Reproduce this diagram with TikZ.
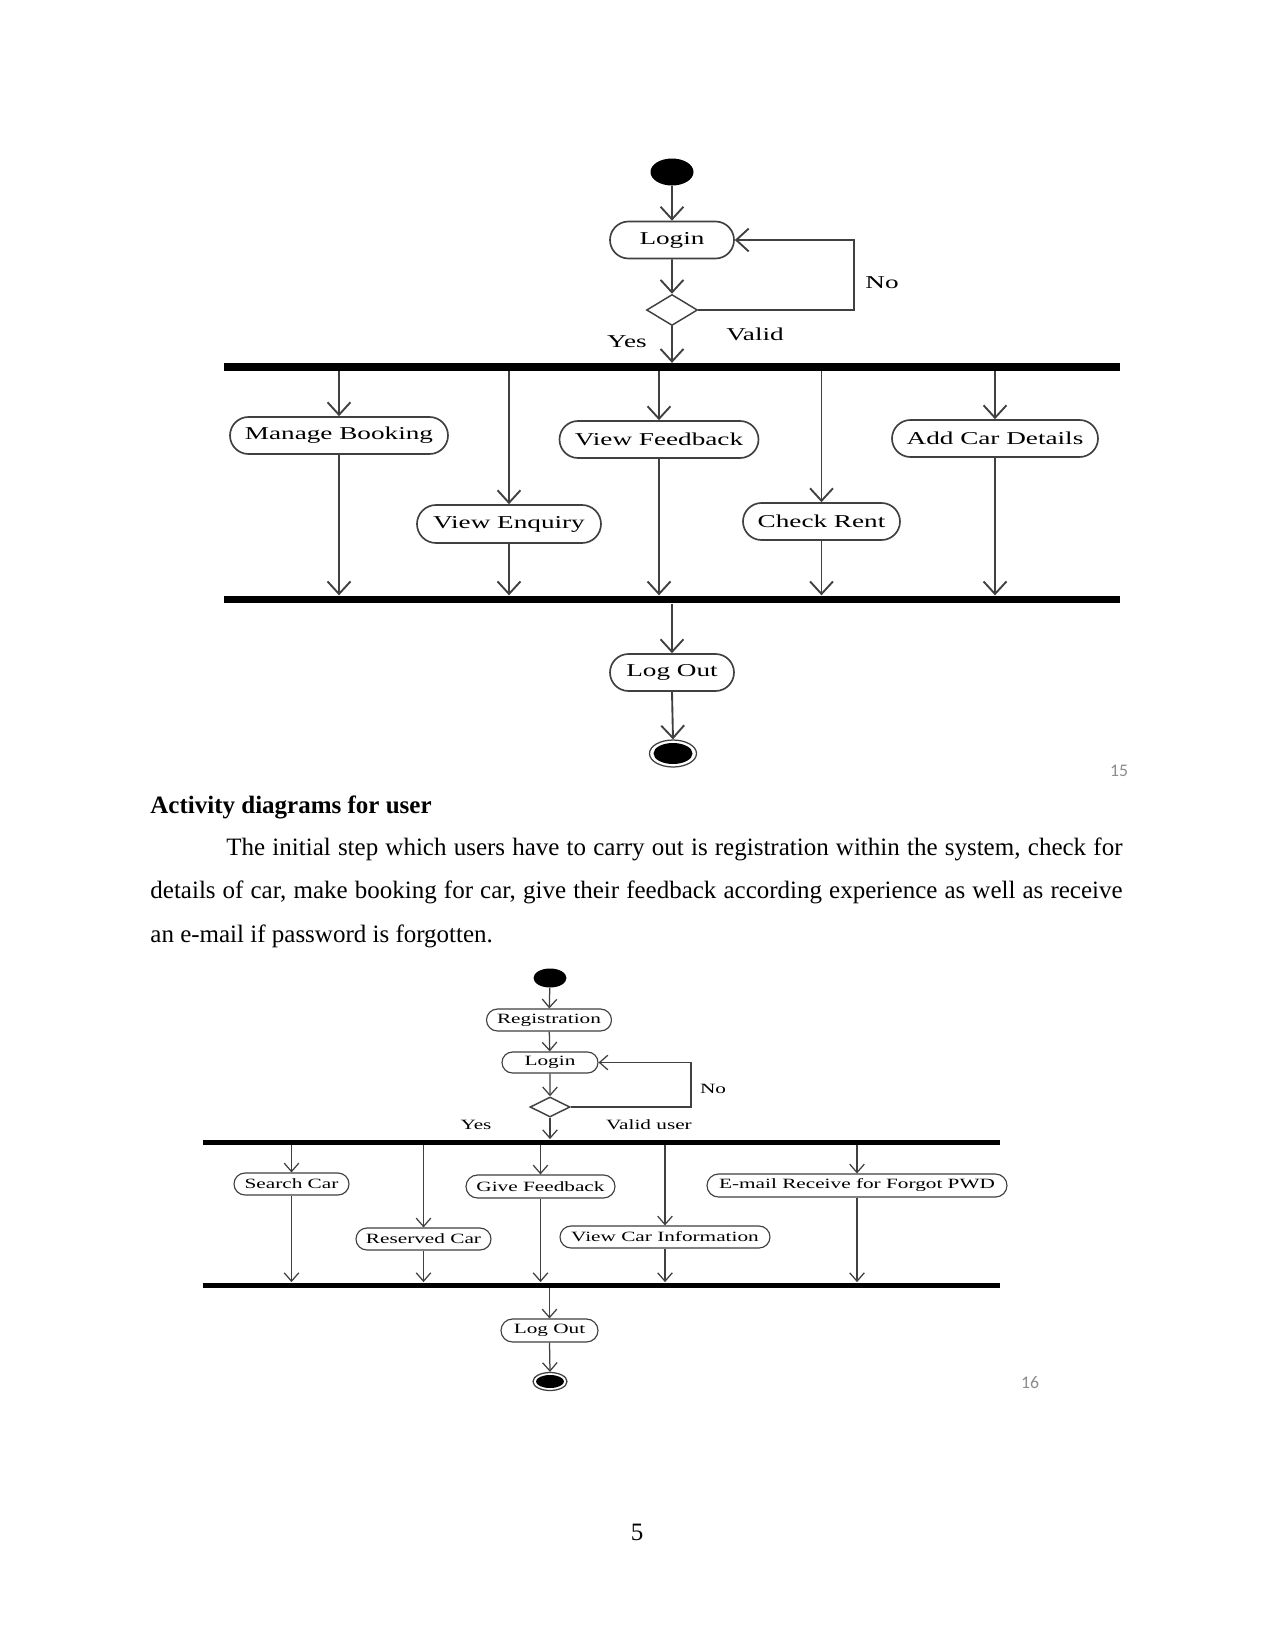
\documentclass[tikz,border=0pt]{standalone}
\usepackage{fontspec}
\setmainfont{Liberation Serif}
\newfontfamily\dfont[FakeStretch=1.5]{Liberation Serif}
\newfontfamily\nfont{Carlito}
\usetikzlibrary{arrows.meta,shapes.geometric,shapes.misc}
\begin{document}
\begin{tikzpicture}[x=0.48bp,y=-0.48bp,
  ln/.style={draw=black!75, line width=0.9bp},
  ar/.style={ln, -{Straight Barb[length=6bp,width=11bp]}},
  lnb/.style={draw=black!75, line width=0.6bp},
  arb/.style={lnb, -{Straight Barb[length=4bp,width=7bp]}},
  ov/.style 2 args={rounded rectangle, draw=black!75, line width=0.8bp, inner sep=0pt,
    minimum width=#1*0.48bp, minimum height=#2*0.48bp,
    font=\dfont\fontsize{8.7bp}{10bp}\selectfont},
  ovb/.style 2 args={rounded rectangle, draw=black!75, line width=0.55bp, inner sep=0pt,
    minimum width=#1*0.48bp, minimum height=#2*0.48bp,
    font=\dfont\fontsize{6.8bp}{8bp}\selectfont},
  lab/.style={inner sep=0pt, font=\dfont\fontsize{8.7bp}{10bp}\selectfont},
  labb/.style={inner sep=0pt, font=\dfont\fontsize{6.8bp}{8bp}\selectfont},
  startn/.style 2 args={ellipse, fill=black, inner sep=0pt, minimum width=#1*0.48bp, minimum height=#2*0.48bp},
  endo/.style 2 args={ellipse, draw=black!75, line width=0.6bp, inner sep=0pt, minimum width=#1*0.48bp, minimum height=#2*0.48bp},
  dia/.style 2 args={diamond, draw=black!75, line width=0.7bp, inner sep=0pt, minimum width=#1*0.48bp, minimum height=#2*0.48bp},
  bar/.style 2 args={fill=black, inner sep=0pt, minimum width=#1*0.48bp, minimum height=#2*0.48bp},
  pnum/.style={inner sep=0pt, text=black!45, font=\nfont\fontsize{8.5bp}{10bp}\selectfont}
]
\fill[white] (0,0) rectangle (1275,1651);
\useasboundingbox (0,0) rectangle (1275,1651);

% ---------------- Diagram 1 ----------------
\node[startn={43}{27}] (s1) at (672,172) {};
\node[ov={124}{37}] (login1) at (672,240) {Login};
\node[dia={51}{31}] (d1) at (672,310) {};
\node[bar={896}{7.5}] (bar1) at (672,367) {};
\node[ov={218}{37}] (mb) at (339,435.5) {Manage Booking};
\node[ov={184}{38}] (ve) at (509,524) {View Enquiry};
\node[ov={199}{37}] (vf) at (659,439.5) {View Feedback};
\node[ov={157}{37}] (cr) at (821.5,521.5) {Check Rent};
\node[ov={206}{37}] (ac) at (995,438.5) {Add Car Details};
\node[bar={896}{7.5}] (bar2) at (672,599.5) {};
\node[ov={124}{37}] (lo1) at (672,672.5) {Log Out};
\node[endo={47}{27}] (e1) at (673,753.5) {};
\node[startn={39}{21}] (e1i) at (673,753.5) {};

\node[lab] (no1) at (882,283) {No};
\node[lab] (valid1) at (755,334) {Valid};
\node[lab] (yes1) at (627,342) {Yes};
\node[pnum] (p15) at (1119,771) {15};

\coordinate (c1) at (854,310);
\draw[ar] (s1) -- (login1);
\draw[ar] (login1) -- (d1);
\draw[ar] (d1.east) -- (c1) |- (login1.east);
\draw[ar] (d1.south) -- (d1.south |- bar1.north);
\draw[ar] (mb.north |- bar1.south) -- (mb.north);
\draw[ar] (ve.north |- bar1.south) -- (ve.north);
\draw[ar] (vf.north |- bar1.south) -- (vf.north);
\draw[ar] (cr.north |- bar1.south) -- (cr.north);
\draw[ar] (ac.north |- bar1.south) -- (ac.north);
\draw[ar] (mb.south) -- (mb.south |- bar2.north);
\draw[ar] (ve.south) -- (ve.south |- bar2.north);
\draw[ar] (vf.south) -- (vf.south |- bar2.north);
\draw[ar] (cr.south) -- (cr.south |- bar2.north);
\draw[ar] (ac.south) -- (ac.south |- bar2.north);
\draw[ar] (lo1.north |- bar2.south) -- (lo1.north);
\draw[ar] (lo1.south) -- (e1.north);

% ---------------- Text ----------------
\node[anchor=base west, inner sep=0pt, font=\bfseries\fontsize{12bp}{14bp}\selectfont] (head) at (150,813) {Activity diagrams for user};
\node[anchor=base west, inner sep=0pt, font=\fontsize{12bp}{14bp}\selectfont] (l1) at (226,855)
  {\makebox[430.1bp][s]{The initial step which users have to carry out is registration within the system, check for}};
\node[anchor=base west, inner sep=0pt, font=\fontsize{12bp}{14bp}\selectfont] (l2) at (150,898.5)
  {\makebox[466.6bp][s]{details of car, make booking for car, give their feedback according experience as well as receive}};
\node[anchor=base west, inner sep=0pt, font=\fontsize{12bp}{14bp}\selectfont] (l3) at (150,942)
  {an e-mail if password is forgotten.};

% ---------------- Diagram 2 ----------------
\node[startn={33}{19}] (s2) at (550,978) {};
\node[ovb={125}{22}] (reg) at (549,1020) {Registration};
\node[ovb={96}{21}] (login2) at (550,1062.5) {Login};
\node[dia={40}{20}] (d2) at (550,1107) {};
\node[bar={797}{5}] (bar3) at (601.5,1142) {};
\node[ovb={115}{22}] (sc) at (291.5,1184) {Search Car};
\node[ovb={135}{22}] (rc) at (423.5,1239) {Reserved Car};
\node[ovb={149}{23}] (gf) at (540.5,1186.5) {Give Feedback};
\node[ovb={210}{22}] (vci) at (665,1237) {View Car Information};
\node[ovb={300}{23}] (em) at (857,1185.5) {E-mail Receive for Forgot PWD};
\node[bar={797}{5}] (bar4) at (601.5,1285) {};
\node[ovb={97}{23}] (lo2) at (549.5,1330.5) {Log Out};
\node[endo={34}{18}] (e2) at (550,1381.5) {};
\node[startn={28}{13}] (e2i) at (550,1381.5) {};

\node[labb] (no2) at (713,1089) {No};
\node[labb] (yes2) at (476,1125) {Yes};
\node[labb] (valid2) at (649,1125) {Valid user};
\node[pnum] (p16) at (1030,1383) {16};

\coordinate (c2) at (691,1107);
\draw[arb] (s2) -- (reg);
\draw[arb] (reg) -- (login2);
\draw[arb] (login2) -- (d2);
\draw[arb] (d2.east) -- (c2) |- (login2.east);
\draw[arb] (d2.south) -- (d2.south |- bar3.north);
\draw[arb] (sc.north |- bar3.south) -- (sc.north);
\draw[arb] (rc.north |- bar3.south) -- (rc.north);
\draw[arb] (gf.north |- bar3.south) -- (gf.north);
\draw[arb] (vci.north |- bar3.south) -- (vci.north);
\draw[arb] (em.north |- bar3.south) -- (em.north);
\draw[arb] (sc.south) -- (sc.south |- bar4.north);
\draw[arb] (rc.south) -- (rc.south |- bar4.north);
\draw[arb] (gf.south) -- (gf.south |- bar4.north);
\draw[arb] (vci.south) -- (vci.south |- bar4.north);
\draw[arb] (em.south) -- (em.south |- bar4.north);
\draw[arb] (lo2.north |- bar4.south) -- (lo2.north);
\draw[arb] (lo2.south) -- (e2.north);

\node[anchor=base, inner sep=0pt, font=\fontsize{12bp}{14bp}\selectfont] (pg) at (637,1540) {5};
\end{tikzpicture}
\end{document}
